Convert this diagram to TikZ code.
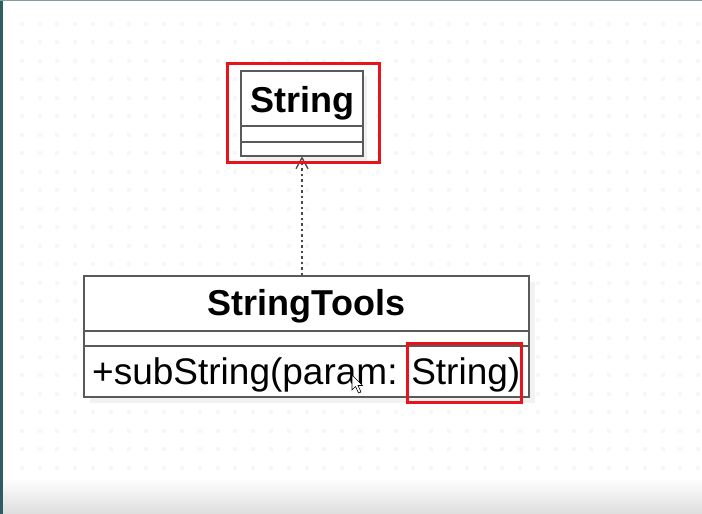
\documentclass[tikz,border=0pt]{standalone}
\usepackage{fontspec}
\setmainfont{Liberation Sans}
\usetikzlibrary{arrows.meta,positioning}
\definecolor{boxgray}{HTML}{5A5A5A}
\definecolor{hired}{HTML}{E8141B}
\definecolor{edgeteal}{HTML}{2E5E62}

\begin{document}
\begin{tikzpicture}[x=1pt,y=-1pt,
  clsbox/.style={draw=boxgray,line width=1.5pt,fill=white,inner sep=0pt},
  clsname/.style={font=\fontsize{36}{40}\selectfont\bfseries,inner sep=0pt},
  member/.style={font=\fontsize{37}{40}\selectfont,inner sep=0pt,anchor=west},
  hilite/.style={draw=hired,line width=3pt,inner sep=0pt},
  realize/.style={draw=boxgray!80!black,line width=1.3pt,dash pattern=on 2.5pt off 3pt},
  realtip/.style={draw=boxgray!80!black,line width=1.3pt,solid,line join=miter}]
\useasboundingbox (0,0) rectangle (702,514);
\fill[white] (0,0) rectangle (702,514);
% faint dot grid of the editor
\foreach \i in {1,...,39}
  \foreach \j in {1,...,26}
    \fill[black!3] (\i*17.8+2,\j*18.5+3) rectangle ++(4,4);
\shade[top color=white,bottom color=black!13] (0,478) rectangle (702,514);
\fill[edgeteal] (0,0) rectangle (2.5,514);
\fill[edgeteal!60] (0,0) rectangle (702,1);

% class String
\fill[black!6] (246,76) rectangle (367,160);
\node[clsbox,minimum width=122pt,minimum height=85pt] (str) at (302,113.5) {};
\node[clsname] (strname) at (302,103) {String};
\draw[boxgray,line width=1.5pt] (str.west |- 0,126) -- (str.east |- 0,126);
\draw[boxgray,line width=1.5pt] (str.west |- 0,142) -- (str.east |- 0,142);

% class StringTools
\fill[black!5] (90,282) rectangle (535,403);
\node[clsbox,minimum width=445pt,minimum height=121pt] (tools) at (306.5,336.5) {};
\node[clsname] (toolsname) at (306.5,306) {StringTools};
\draw[boxgray,line width=1.5pt] (tools.west |- 0,331) -- (tools.east |- 0,331);
\draw[boxgray,line width=1.5pt] (tools.west |- 0,346) -- (tools.east |- 0,346);
\node[member] (method) at (92,374.5) {+subString(param: String)};

% dependency
\draw[realize] (str.south |- tools.north) -- ([yshift=-3pt]str.south);
\draw[realtip] ([xshift=-6pt,yshift=-12pt]str.south) -- ([yshift=-1pt]str.south) -- ([xshift=6pt,yshift=-12pt]str.south);

% red marks
\node[hilite,minimum width=152pt,minimum height=99pt] (markstr) at (303,112.5) {};
\node[hilite,minimum width=114pt,minimum height=59pt] (markparam) at (464,372.5) {};

% mouse pointer
\draw[black,line width=0.6pt,fill=white] (352,375) -- (352,390) -- (355.5,386.5) -- (358.5,393) -- (361,392) -- (358,385.5) -- (362.5,385.5) -- cycle;
\end{tikzpicture}
\end{document}
